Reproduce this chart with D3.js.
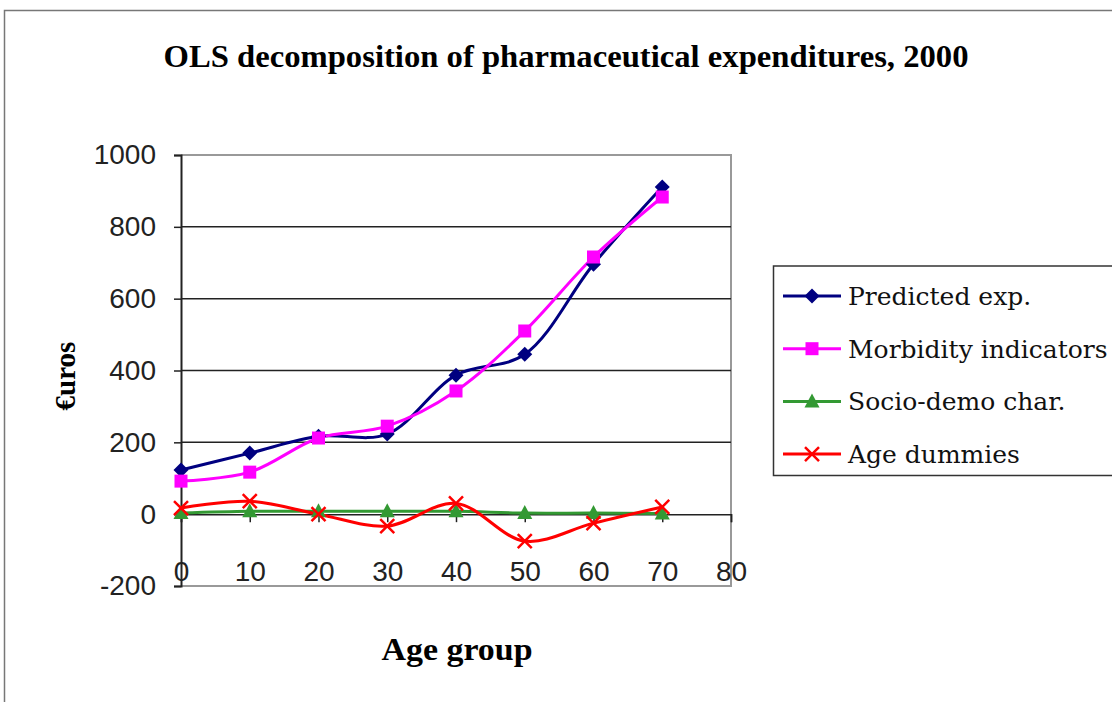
<!DOCTYPE html>
<html><head><meta charset="utf-8">
<script src="https://cdn.jsdelivr.net/npm/d3@7"></script>
<style>body{margin:0;background:#fff}</style>
</head><body>
<svg id="c" width="1112" height="702"></svg>
<script>
const ages = [0,10,20,30,40,50,60,70];
const predicted = [123,170,217,223,387,445,696,911];
const morbidity = [92,117,212,245,343,510,716,883];
const socioDemo = [3,8,8,8,8,3,3,2];
const ageDummies = [17,36,0,-33,30,-75,-25,20];
const xTicks = [0,10,20,30,40,50,60,70,80];
const yTicks = [-200,0,200,400,600,800,1000];
const seriesNames = ["Predicted exp.","Morbidity indicators","Socio-demo char.","Age dummies"];

const series = [
  {name:seriesNames[0], values:predicted, color:"#000080", marker:"diamond"},
  {name:seriesNames[1], values:morbidity, color:"#FF00FF", marker:"square"},
  {name:seriesNames[2], values:socioDemo, color:"#339933", marker:"triangle"},
  {name:seriesNames[3], values:ageDummies, color:"#FF0000", marker:"x"}
];

const svg = d3.select("#c");
const L=181,R=731,T=155,B=586;
const x = d3.scaleLinear().domain([0,80]).range([L,R]);
const y = d3.scaleLinear().domain([-200,1000]).range([B,T]);

// outer border
svg.append("path").attr("d","M4.5,702 V10.5 H1112").attr("fill","none").attr("stroke","#777").attr("stroke-width",1.5);

// title
svg.append("text").attr("x",566).attr("y",67).attr("text-anchor","middle")
  .attr("font-family","Liberation Serif").attr("font-weight","bold").attr("font-size",32)
  .attr("textLength",805).attr("lengthAdjust","spacingAndGlyphs")
  .text("OLS decomposition of pharmaceutical expenditures, 2000");

// plot border
svg.append("path").attr("d",`M${L},${T} H${R} V${B} H${L}`).attr("fill","none").attr("stroke","#999").attr("stroke-width",2);

// gridlines
svg.append("g").selectAll("line").data(yTicks.filter(d=>d>0 && d<1000)).join("line")
  .attr("x1",L).attr("x2",R).attr("y1",d=>y(d)).attr("y2",d=>y(d)).attr("stroke","#222").attr("stroke-width",1.5);

const fmt = d=>String(d);
// y axis
const ya = svg.append("g").attr("transform",`translate(${L},0)`).call(d3.axisLeft(y).tickValues(yTicks).tickFormat(fmt).tickSize(7).tickPadding(18));
ya.select(".domain").attr("stroke","#222").attr("stroke-width",2);
ya.selectAll(".tick line").attr("stroke","#222").attr("stroke-width",1.5);
ya.selectAll("text").attr("font-family","Liberation Sans").attr("font-size",28).attr("fill","#222");

// x axis at zero
const xa = svg.append("g").attr("transform",`translate(0,${y(0)})`).call(d3.axisBottom(x).tickValues(xTicks).tickFormat(fmt).tickSize(8).tickPadding(39));
xa.select(".domain").attr("stroke","#222").attr("stroke-width",1.5);
xa.selectAll(".tick line").attr("stroke","#222").attr("stroke-width",1.5);
xa.selectAll("text").attr("font-family","Liberation Sans").attr("font-size",28).attr("fill","#222");

// axis titles
svg.append("text").attr("transform","translate(75,376) rotate(-90)").attr("text-anchor","middle")
  .attr("font-family","Liberation Serif").attr("font-weight","bold").attr("font-size",29).text("€uros");
svg.append("text").attr("x",457).attr("y",660).attr("text-anchor","middle")
  .attr("font-family","Liberation Serif").attr("font-weight","bold").attr("font-size",31)
  .attr("textLength",151).attr("lengthAdjust","spacingAndGlyphs").text("Age group");

function drawMarker(g, type, color, cx, cy){
  if(type==="diamond"){
    g.append("path").attr("d",`M${cx},${cy-7.5} L${cx+7.5},${cy} L${cx},${cy+7.5} L${cx-7.5},${cy} Z`).attr("fill",color);
  } else if(type==="square"){
    g.append("rect").attr("x",cx-6.5).attr("y",cy-6.5).attr("width",13).attr("height",13).attr("fill",color);
  } else if(type==="triangle"){
    g.append("path").attr("d",`M${cx},${cy-8} L${cx+7.5},${cy+6} L${cx-7.5},${cy+6} Z`).attr("fill",color);
  } else {
    g.append("path").attr("d",`M${cx-7},${cy-7} L${cx+7},${cy+7} M${cx-7},${cy+7} L${cx+7},${cy-7}`).attr("stroke",color).attr("stroke-width",2.5);
  }
}

const line = d3.line().x((d,i)=>x(ages[i])).y(d=>y(d)).curve(d3.curveCatmullRom.alpha(0.5));
[2,3,0,1].forEach(k=>{
  const s = series[k];
  svg.append("path").datum(s.values).attr("d",line).attr("fill","none").attr("stroke",s.color).attr("stroke-width",3);
});
[2,3,0,1].forEach(k=>{
  const s = series[k];
  const g = svg.append("g");
  s.values.forEach((v,i)=>drawMarker(g,s.marker,s.color,x(ages[i]),y(v)));
});

// legend
svg.append("path").attr("d","M1112,266 H773.5 V475.5 H1112").attr("fill","none").attr("stroke","#333").attr("stroke-width",1.5);
series.forEach((s,i)=>{
  const cy = 296 + i*52.7;
  svg.append("line").attr("x1",783).attr("x2",841).attr("y1",cy).attr("y2",cy).attr("stroke",s.color).attr("stroke-width",3);
  drawMarker(svg,s.marker,s.color,812,cy);
  svg.append("text").attr("x",848).attr("y",cy+9).attr("font-family","DejaVu Serif").attr("font-size",25).attr("fill","#111").text(s.name);
});
</script>
</body></html>
